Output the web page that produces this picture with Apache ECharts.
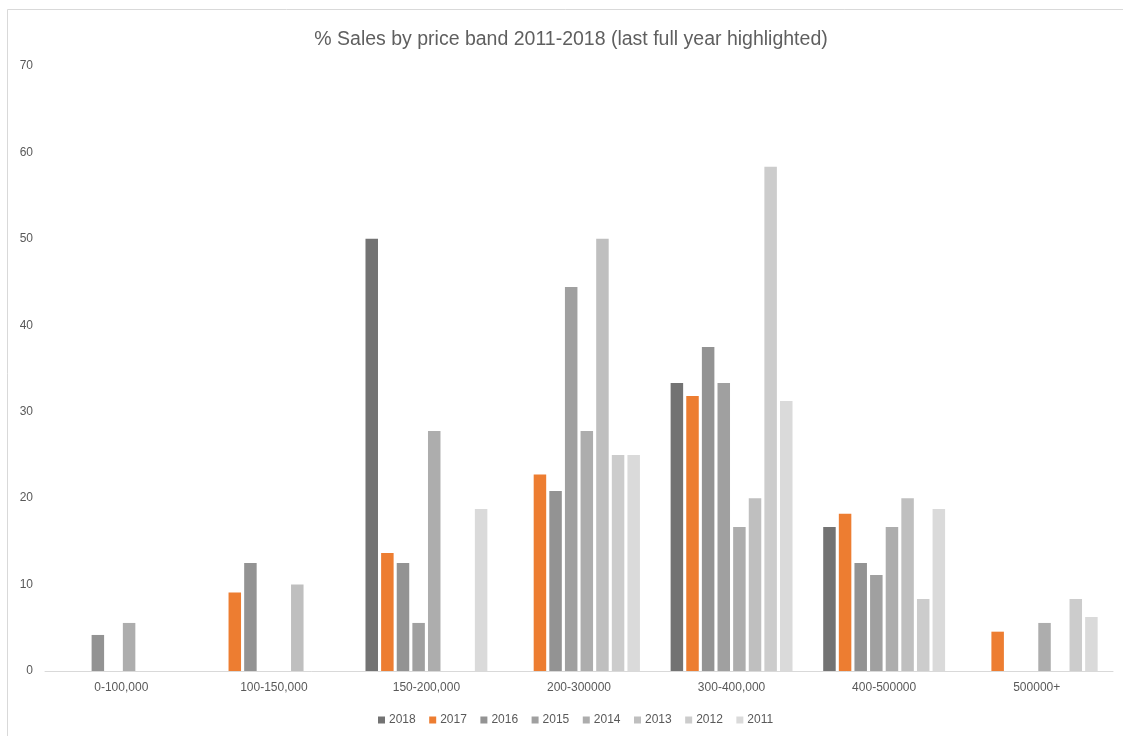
<!DOCTYPE html>
<html>
<head>
<meta charset="utf-8">
<title>% Sales by price band 2011-2018</title>
<script src="https://cdn.jsdelivr.net/npm/echarts@6/dist/echarts.min.js"></script>
<style>
  html, body { margin: 0; padding: 0; background: #ffffff; }
  #chart { width: 1123px; height: 736px; }
</style>
</head>
<body>
<div id="chart"></div>
<script>
// Price bands along the x axis
var bands = ['0-100,000', '100-150,000', '150-200,000', '200-300000', '300-400,000', '400-500000', '500000+'];

// Share of sales (%) in each band, one array per year
var y2018 = [0, 0, 50, 0, 33.33, 16.67, 0];
var y2017 = [0, 9.09, 13.64, 22.73, 31.82, 18.18, 4.55];
var y2016 = [4.17, 12.5, 12.5, 20.83, 37.5, 12.5, 0];
var y2015 = [0, 0, 5.56, 44.44, 33.33, 11.11, 0];
var y2014 = [5.56, 0, 27.78, 27.78, 16.67, 16.67, 5.56];
var y2013 = [0, 10, 0, 50, 20, 20, 0];
var y2012 = [0, 0, 0, 25, 58.33, 8.33, 8.33];
var y2011 = [0, 0, 18.75, 25, 31.25, 18.75, 6.25];

var years = ['2018', '2017', '2016', '2015', '2014', '2013', '2012', '2011'];
var yearValues = [y2018, y2017, y2016, y2015, y2014, y2013, y2012, y2011];

// Latest full year in orange, everything else in a grey ramp
var palette = ['#737373', '#ED7D31', '#939393', '#A0A0A0', '#ADADAD', '#BFBFBF', '#CCCCCC', '#DADADA'];

var chart = echarts.init(document.getElementById('chart'), null, { renderer: 'canvas' });

var series = years.map(function (name, i) {
  return {
    name: name,
    type: 'bar',
    data: yearValues[i].map(function (v) { return v === 0 ? '-' : v; }),
    barWidth: 12.5,
    barGap: '25%',
    itemStyle: { color: palette[i] },
    emphasis: { disabled: true }
  };
});

chart.setOption({
  animation: false,
  backgroundColor: '#ffffff',
  color: palette,
  textStyle: { fontFamily: 'Liberation Sans, Arial, sans-serif' },
  graphic: [{
    type: 'rect',
    shape: { x: 7.5, y: 9.5, width: 1300, height: 900 },
    style: { fill: 'none', stroke: '#D9D9D9', lineWidth: 1 },
    silent: true,
    z: -1
  }],
  title: {
    text: '% Sales by price band 2011-2018 (last full year highlighted)',
    left: 566,
    textAlign: 'center',
    top: 25,
    textStyle: {
      fontSize: 19.5,
      fontWeight: 'normal',
      color: '#5f5f5f',
      fontFamily: 'Liberation Sans, Arial, sans-serif'
    }
  },
  legend: {
    bottom: 5,
    left: 373,
    itemWidth: 7,
    itemHeight: 7,
    itemGap: 13.5,
    icon: 'rect',
    textStyle: { fontSize: 12, color: '#595959', padding: [0, 0, 0, -1] },
    data: years
  },
  grid: {
    left: 45,
    right: 10,
    top: 66,
    bottom: 65,
    containLabel: false
  },
  xAxis: {
    type: 'category',
    data: bands,
    axisLine: { lineStyle: { color: '#D9D9D9', width: 1 } },
    axisTick: { show: false },
    axisLabel: { color: '#595959', fontSize: 12, margin: 11, interval: 0 }
  },
  yAxis: {
    type: 'value',
    min: 0,
    max: 70,
    interval: 10,
    axisLine: { show: false },
    axisTick: { show: false },
    splitLine: { show: false },
    axisLabel: { color: '#595959', fontSize: 12, margin: 12 }
  },
  series: series
});
</script>
</body>
</html>
